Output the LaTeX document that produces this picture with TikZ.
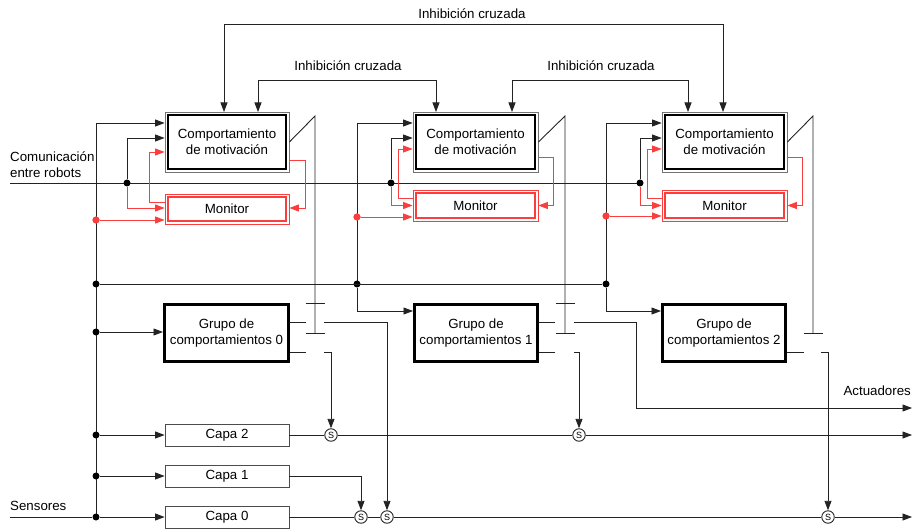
\documentclass[tikz,border=0pt]{standalone}
\usepackage{fontspec}
\setmainfont{Liberation Sans}
\usetikzlibrary{arrows.meta}
\definecolor{mred}{RGB}{250,62,62}
\definecolor{lgray}{RGB}{35,35,35}
\begin{document}
\begin{tikzpicture}[x=1pt,y=-1pt,
  font=\fontsize{13.3}{15.8}\selectfont,
  ln/.style={draw=lgray,line width=0.9pt},
  arr/.style={ln,-{Triangle[length=9.5pt,width=7pt]}},
  arrboth/.style={ln,{Triangle[length=9.5pt,width=7pt]}-{Triangle[length=9.5pt,width=7pt]}},
  rarr/.style={draw=mred,line width=0.9pt,-{Triangle[length=9.5pt,width=7pt]}},
  motbox/.style={draw=black!55,line width=0.8pt,minimum width=124pt,minimum height=60pt,inner sep=0pt,align=center,
     path picture={\draw[black,line width=1.3pt] ([shift={(3pt,3pt)}]path picture bounding box.south west) rectangle ([shift={(-3pt,-3pt)}]path picture bounding box.north east);}},
  monbox/.style={draw=mred,line width=0.8pt,minimum width=124pt,minimum height=30pt,inner sep=0pt,align=center,
     path picture={\draw[mred,line width=1.2pt] ([shift={(3pt,3pt)}]path picture bounding box.south west) rectangle ([shift={(-3pt,-3pt)}]path picture bounding box.north east);}},
  grpbox/.style={draw=black,line width=3pt,minimum width=124pt,minimum height=57pt,inner sep=0pt,align=center},
  capabox/.style={draw=black!70,line width=0.8pt,minimum width=124pt,minimum height=22pt,inner sep=0pt},
  snode/.style={circle,draw=lgray,line width=0.9pt,fill=white,minimum size=12.5pt,inner sep=0pt,font=\fontsize{9}{9}\selectfont},
  dot/.style={circle,fill=black,inner sep=0pt,minimum size=7pt},
  rdot/.style={circle,fill=mred,inner sep=0pt,minimum size=7pt},
  lbl/.style={inner sep=0pt}
]
\useasboundingbox (0,0) rectangle (912,529);

% ---------- boxes ----------
\node[motbox] (mot0) at (227,142) {Comportamiento\\de motivación};
\node[motbox,minimum width=125pt] (mot1) at (475.5,142) {Comportamiento\\de motivación};
\node[motbox,minimum width=125pt] (mot2) at (724.5,142) {Comportamiento\\de motivación};
\node[monbox] (mon0) at (227,209) {Monitor};
\node[monbox,minimum width=125pt,minimum height=31pt] (mon1) at (475.5,205.5) {Monitor};
\node[monbox,minimum width=125pt,minimum height=31pt] (mon2) at (724.5,205.5) {Monitor};
\node[grpbox] (grp0) at (226.5,333) {Grupo de\\comportamientos 0};
\node[grpbox,minimum width=123pt] (grp1) at (476,333) {Grupo de\\comportamientos 1};
\node[grpbox,minimum width=123pt] (grp2) at (724,333) {Grupo de\\comportamientos 2};
\node[capabox] (capa2) at (227,435) {Capa 2};
\node[capabox] (capa1) at (227,476) {Capa 1};
\node[capabox] (capa0) at (227,517) {Capa 0};

% ---------- labels ----------
\node[lbl] (inh0) at (472,14) {Inhibición cruzada};
\node[lbl] (inh1) at (348,66) {Inhibición cruzada};
\node[lbl] (inh2) at (601,66) {Inhibición cruzada};
\node[lbl,anchor=west,align=left] (comm) at (10,165) {Comunicación\\entre robots};
\node[lbl,anchor=west] (sens) at (10,506) {Sensores};
\node[lbl,anchor=east] (actl) at (911,391) {Actuadores};

% ---------- cross inhibition ----------
\coordinate (t0a) at (224,112); \coordinate (t0b) at (258,112);
\coordinate (t1a) at (436,112); \coordinate (t1b) at (512,112);
\coordinate (t2a) at (688,112); \coordinate (t2b) at (723,112);
\draw[arrboth] (t0a) -- ++(0,-88) -| (t2b);
\draw[arrboth] (t0b) -- ++(0,-32) -| (t1a);
\draw[arrboth] (t1b) -- ++(0,-32) -| (t2a);

% ---------- left bus ----------
\coordinate (busTop) at (96,123);
\coordinate (sensL) at (10,517);
\draw[ln] (busTop) -- (96,517);
\node[dot] (b284) at (96,284) {};
\node[dot] (b332) at (96,332) {};
\node[dot] (b435) at (96,435) {};
\node[dot] (b476) at (96,476) {};
\node[dot] (b517) at (96,517) {};
\node[rdot] (br0) at (96,220) {};
\draw[ln] (sensL) -- (b517);
\draw[arr] (busTop) -- (busTop -| mot0.west);
\draw[rarr] (br0) -- (br0 -| mon0.west);
\draw[arr] (b332) -- (b332 -| grp0.west);
\draw[arr] (b435) -- (b435 -| capa2.west);
\draw[arr] (b476) -- (b476 -| capa1.west);
\draw[arr] (b517) -- (b517 -| capa0.west);

% ---------- columns 1 and 2 left lines ----------
\coordinate (v1t) at (357,123);
\coordinate (v2t) at (606,123);
\draw[ln] (v1t) -- (357,284);
\draw[ln] (v2t) -- (606,284);
\node[dot] (h1) at (357,284) {};
\node[dot] (h2) at (606,284) {};
\node[rdot] (r1) at (357,217) {};
\node[rdot] (r2) at (606,216) {};
\draw[ln] (b284) -- (h2);
\draw[arr] (v1t) -- (v1t -| mot1.west);
\draw[arr] (v2t) -- (v2t -| mot2.west);
\draw[rarr] (r1) -- (r1 -| mon1.west);
\draw[rarr] (r2) -- (r2 -| mon2.west);
\draw[arr] (h1) |- ([yshift=22pt]grp1.west);
\draw[arr] (h2) |- ([yshift=22pt]grp2.west);

% ---------- communication line ----------
\coordinate (commL) at (10,183);
\draw[ln] (commL) -- (640,183);
\node[dot] (c0) at (127,183) {};
\node[dot] (c1) at (391,183) {};
\node[dot] (c2) at (640,183) {};
\draw[arr] (c0) |- ([yshift=4pt]mot0.west);
\draw[arr] (c1) |- ([yshift=4pt]mot1.west);
\draw[arr] (c2) |- ([yshift=4pt]mot2.west);
\draw[rarr] (c0) |- ([yshift=1pt]mon0.west);
\draw[rarr] (c1) |- (mon1.west);
\draw[rarr] (c2) |- (mon2.west);

% ---------- monitor feedback ----------
\draw[rarr] ([yshift=7pt]mon0.west) -- ++(-15,0) |- ([yshift=-10pt]mot0.west);
\draw[rarr] ([yshift=7.5pt]mon1.west) -- ++(-14,0) |- ([yshift=-7pt]mot1.west);
\draw[rarr] ([yshift=7.5pt]mon2.west) -- ++(-14,0) |- ([yshift=-7pt]mot2.west);
\draw[rarr] ([yshift=-18pt]mot0.east) -- ++(16,0) |- ([yshift=1pt]mon0.east);
\draw[rarr] ([yshift=-15pt]mot1.east) -- ++(15,0) |- (mon1.east);
\draw[rarr] ([yshift=-15pt]mot2.east) -- ++(15,0) |- (mon2.east);

% ---------- inhibition / suppression lines ----------
\coordinate (v0a) at (315,116); \coordinate (v0b) at (315,333);
\coordinate (v1a) at (565,116); \coordinate (v1b) at (565,333);
\coordinate (v2a) at (813,116); \coordinate (v2b) at (813,333);
\draw[ln] (mot0.east) -- (v0a) -- (v0b);
\draw[ln] (mot1.east) -- (v1a) -- (v1b);
\draw[ln] (mot2.east) -- (v2a) -- (v2b);
\draw[ln] ([xshift=-9.5pt]v0b) -- ([xshift=9.5pt]v0b);
\draw[ln] ([shift={(-9.5,-30)}]v0b) -- ([shift={(9.5,-30)}]v0b);
\draw[ln] ([xshift=-9.5pt]v1b) -- ([xshift=9.5pt]v1b);
\draw[ln] ([shift={(-9.5,-30)}]v1b) -- ([shift={(9.5,-30)}]v1b);
\draw[ln] ([xshift=-9.5pt]v2b) -- ([xshift=9.5pt]v2b);

% ---------- S nodes ----------
\node[snode] (s02) at (331,435) {S};
\node[snode] (s12) at (579,435) {S};
\node[snode] (s01) at (361,517) {S};
\node[snode] (s00) at (387,517) {S};
\node[snode] (s20) at (828,517) {S};

% ---------- group outputs ----------
\draw[ln] ([yshift=11pt]grp0.east) -- ++(15.5,0);
\draw[ln] ([yshift=-19pt]grp0.east) -- ++(15.5,0);
\draw[ln] ([yshift=11pt]grp1.east) -- ++(15.5,0);
\draw[ln] ([yshift=-19pt]grp1.east) -- ++(15.5,0);
\draw[ln] ([yshift=-19pt]grp2.east) -- ++(16.5,0);
\coordinate (g0a) at (324,322); \coordinate (g0b) at (324,352);
\coordinate (g1a) at (574,322); \coordinate (g1b) at (574,352);
\coordinate (g2b) at (821,352);
\coordinate (act) at (912,408);
\draw[arr] (g0a) -| (s00.north);
\draw[arr] (g0b) -| (s02.north);
\draw[arr] (g1a) -- ++(62,0) |- (act);
\draw[arr] (g1b) -| (s12.north);
\draw[arr] (g2b) -| (s20.north);

% ---------- layer lines ----------
\coordinate (out2) at (912,435);
\coordinate (out0) at (912,517);
\draw[ln] (capa2.east) -- (s02.west);
\draw[ln] (s02.east) -- (s12.west);
\draw[arr] (s12.east) -- (out2);
\draw[arr] (capa1.east) -| (s01.north);
\draw[ln] (capa0.east) -- (s01.west);
\draw[ln] (s01.east) -- (s00.west);
\draw[ln] (s00.east) -- (s20.west);
\draw[arr] (s20.east) -- (out0);

% redraw red dots over the black lines
\fill[mred] (br0) circle (3.5pt);
\fill[mred] (r1) circle (3.5pt);
\fill[mred] (r2) circle (3.5pt);
\end{tikzpicture}
\end{document}
